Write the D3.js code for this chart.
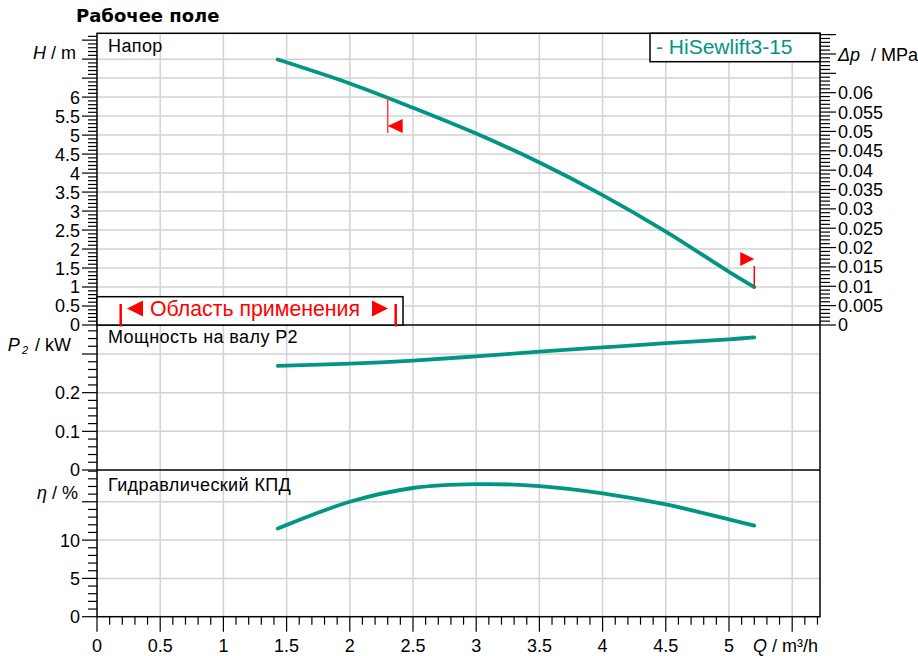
<!DOCTYPE html>
<html>
<head>
<meta charset="utf-8">
<script src="https://cdn.jsdelivr.net/npm/d3@7"></script>
<style>
  body { margin: 0; background: #fff; }
  svg text { font-family: "Liberation Sans", Arial, sans-serif; fill: #000; }
</style>
</head>
<body>
<div id="chart"></div>
<script>
// Curve data
const flow = [1.43, 2, 2.5, 3, 3.5, 4, 4.5, 5, 5.2];          // Q, m³/h
const head = [6.99, 6.36, 5.72, 5.04, 4.28, 3.42, 2.46, 1.40, 1.0]; // H, m
const power = [0.2695, 0.275, 0.283, 0.294, 0.306, 0.317, 0.328, 0.338, 0.343]; // P2, kW
const efficiency = [11.5, 15.0, 16.8, 17.3, 17.05, 16.1, 14.65, 12.7, 11.9]; // eta, %

// tick label lists
const qLabels = [0, 0.5, 1, 1.5, 2, 2.5, 3, 3.5, 4, 4.5, 5];
const hLabels = [0, 0.5, 1, 1.5, 2, 2.5, 3, 3.5, 4, 4.5, 5, 5.5, 6];
const dpLabels = [0, 0.005, 0.01, 0.015, 0.02, 0.025, 0.03, 0.035, 0.04, 0.045, 0.05, 0.055, 0.06];
const pLabels = [0, 0.1, 0.2];
const etaLabels = [0, 5, 10];

// operating range markers (Q)
const rangeLimits = [2.3, 5.2];

const title = 'Рабочее поле';
const seriesName = '- HiSewlift3-15';
const rangeText = 'Область применения';

const W = 918, H = 656;
const plotL = 97, plotR = 820, plotT = 33.3;
const p1Bottom = 325, p2Bottom = 470, p3Bottom = 616.7;
const teal = '#009682';
const red = '#ff0000';
const gridColor = '#d2d2d2';

const svg = d3.select('#chart').append('svg')
    .attr('width', W)
    .attr('height', H);

const x = d3.scaleLinear().domain([0, 5.72]).range([plotL, plotR]);
const yH = d3.scaleLinear().domain([0, 7.68]).range([p1Bottom, plotT]);
const yDp = d3.scaleLinear().domain([0, 7.68 * 0.00981]).range([p1Bottom, plotT]);
const yP = d3.scaleLinear().domain([0, 0.375]).range([p2Bottom, p1Bottom]);
const yE = d3.scaleLinear().domain([0, 19.15]).range([p3Bottom, p2Bottom]);

const fmt = d => String(+d.toFixed(4));
const steps = (a, b, s) => d3.range(Math.round(a / s), Math.round(b / s) + 1).map(i => +(i * s).toFixed(6));

// Grid
const grid = svg.append('g').attr('stroke', gridColor).attr('stroke-width', 1.5);
steps(0.5, 5.5, 0.5).forEach(v => {
    grid.append('line').attr('x1', x(v)).attr('x2', x(v)).attr('y1', plotT).attr('y2', p3Bottom);
});
const hGrid = (scale, vals) => vals.forEach(v => {
    grid.append('line').attr('x1', plotL).attr('x2', plotR).attr('y1', scale(v)).attr('y2', scale(v));
});
hGrid(yH, steps(0.5, 7, 0.5));
hGrid(yP, [0.1, 0.2, 0.3]);
hGrid(yE, [5, 10, 15]);

// Left axes with minor ticks
function leftAxis(scale, max, minorStep, majorStep, labels) {
    const g = svg.append('g').attr('stroke', '#000').attr('stroke-width', 1.2);
    steps(0, max, minorStep).forEach(v => {
        const major = Math.abs(v / majorStep - Math.round(v / majorStep)) < 1e-6;
        g.append('line')
            .attr('x1', plotL - (major ? 15 : 9)).attr('x2', plotL)
            .attr('y1', scale(v)).attr('y2', scale(v));
    });
    svg.append('g').selectAll('text').data(labels).join('text')
        .attr('x', 80)
        .attr('y', d => scale(d))
        .attr('dy', '0.36em')
        .attr('text-anchor', 'end')
        .style('font-size', '18px')
        .text(fmt);
}
leftAxis(yH, 7.6, 0.1, 0.5, hLabels);
leftAxis(yP, 0.36, 0.02, 0.1, pLabels);
leftAxis(yE, 19, 1, 5, etaLabels);

// Right axis (pressure)
const rg = svg.append('g').attr('stroke', '#000').attr('stroke-width', 1.2);
steps(0, 0.075, 0.001).forEach(v => {
    const major = Math.abs(v / 0.005 - Math.round(v / 0.005)) < 1e-6;
    rg.append('line')
        .attr('x1', plotR).attr('x2', plotR + (major ? 16 : 10))
        .attr('y1', yDp(v)).attr('y2', yDp(v));
});
svg.append('g').selectAll('text').data(dpLabels).join('text')
    .attr('x', 838)
    .attr('y', d => yDp(d))
    .attr('dy', '0.36em')
    .style('font-size', '18px')
    .text(fmt);

// Bottom axis
const bg = svg.append('g').attr('stroke', '#000').attr('stroke-width', 1.2);
steps(0, 5.7, 0.1).forEach(v => {
    const major = Math.abs(v / 0.5 - Math.round(v / 0.5)) < 1e-6;
    bg.append('line')
        .attr('x1', x(v)).attr('x2', x(v))
        .attr('y1', p3Bottom).attr('y2', p3Bottom + (major ? 15 : 8));
});
svg.append('g').selectAll('text').data(qLabels).join('text')
    .attr('x', d => x(d))
    .attr('y', 652)
    .attr('text-anchor', 'middle')
    .style('font-size', '18px')
    .text(fmt);

// Frame and panel separators
const frame = svg.append('g').attr('stroke', '#000').attr('stroke-width', 1.5).attr('fill', 'none');
frame.append('rect').attr('x', plotL).attr('y', plotT).attr('width', plotR - plotL).attr('height', p3Bottom - plotT);
[p1Bottom, p2Bottom].forEach(y => {
    frame.append('line').attr('x1', plotL).attr('x2', plotR).attr('y1', y).attr('y2', y);
});

// Curves
const line = (scale, vals) => d3.line()
    .x((d, i) => x(flow[i]))
    .y(d => scale(d))
    .curve(d3.curveCatmullRom.alpha(0.5))(vals);

[[yH, head], [yP, power], [yE, efficiency]].forEach(([scale, vals]) => {
    svg.append('path')
        .attr('d', line(scale, vals))
        .attr('fill', 'none')
        .attr('stroke', teal)
        .attr('stroke-width', 3.8)
        .attr('stroke-linecap', 'round');
});

// Operating range markers on the head curve
const headAt = q => {
    const i = Math.max(1, d3.bisectLeft(flow, q));
    const t = (q - flow[i - 1]) / (flow[i] - flow[i - 1]);
    return head[i - 1] + t * (head[i] - head[i - 1]);
};
const mk = svg.append('g');
{
    const mx = x(rangeLimits[0]), my = yH(headAt(rangeLimits[0]));
    mk.append('line').attr('x1', mx).attr('x2', mx).attr('y1', my).attr('y2', my + 35)
        .attr('stroke', '#ff4040').attr('stroke-width', 1.5);
    mk.append('path')
        .attr('d', `M${mx},${my + 28}L${mx + 15},${my + 21}L${mx + 15},${my + 35}Z`)
        .attr('fill', red);
}
{
    const mx = x(rangeLimits[1]), my = yH(headAt(rangeLimits[1]));
    mk.append('line').attr('x1', mx).attr('x2', mx).attr('y1', my).attr('y2', my - 21)
        .attr('stroke', red).attr('stroke-width', 1.5);
    mk.append('path')
        .attr('d', `M${mx - 14},${my - 35}L${mx},${my - 28}L${mx - 14},${my - 21}Z`)
        .attr('fill', red);
}

// "Область применения" box
svg.append('rect')
    .attr('x', plotL).attr('y', 296.7).attr('width', 403 - plotL).attr('height', p1Bottom - 296.7)
    .attr('fill', '#fff').attr('stroke', '#000').attr('stroke-width', 1.5);
[120.7, 395.7].forEach(bx => {
    svg.append('line').attr('x1', bx).attr('x2', bx).attr('y1', 304).attr('y2', 326.5)
        .attr('stroke', red).attr('stroke-width', 2.5);
});
svg.append('path').attr('d', 'M127,308.5L143,300.5L143,316.5Z').attr('fill', red);
svg.append('path').attr('d', 'M388,308.5L372,300.5L372,316.5Z').attr('fill', red);
svg.append('text')
    .attr('x', 150).attr('y', 316)
    .style('font-size', '21.3px').style('fill', red)
    .text(rangeText);

// Series legend box
svg.append('rect')
    .attr('x', 650).attr('y', plotT).attr('width', plotR - 650).attr('height', 61.7 - plotT)
    .attr('fill', '#fff').attr('stroke', '#000').attr('stroke-width', 1.5);
svg.append('text')
    .attr('x', 656).attr('y', 54)
    .style('font-size', '21px').style('fill', teal)
    .text(seriesName);

// Panel titles
[['Напор', 52], ['Мощность на валу P2', 343], ['Гидравлический КПД', 491]].forEach(([t, y]) => {
    svg.append('text').attr('x', 108).attr('y', y)
        .style('font-size', '18px').style('letter-spacing', '0.4px').text(t);
});

// Axis unit labels
const unit = (xPos, y, anchor, parts) => {
    const t = svg.append('text').attr('x', xPos).attr('y', y).attr('text-anchor', anchor).style('font-size', '18px');
    parts.forEach(([s, st, dx]) => {
        const sp = t.append('tspan').text(s);
        if (dx) sp.attr('dx', dx);
        if (st === 'i') sp.style('font-style', 'italic');
        if (st === 'sub') sp.style('font-size', '11px').style('font-style', 'italic').attr('dy', 3);
        if (st === 'up') sp.attr('dy', -3);
    });
};
unit(76, 59, 'end', [['H', 'i'], [' / m']]);
unit(838, 61, 'start', [['Δp', 'i'], ['/ MPa', '', 11]]);
unit(71, 351, 'end', [['P', 'i'], ['2', 'sub', 2], ['/ kW', 'up', 7]]);
unit(78, 499, 'end', [['η', 'i'], [' / %']]);
unit(818, 652, 'end', [['Q', 'i'], [' / m³/h']]);

// Title
svg.append('text')
    .attr('x', 76).attr('y', 22)
    .style('font-family', '"DejaVu Sans", Verdana, sans-serif')
    .style('font-weight', 'bold')
    .style('font-size', '18px')
    .text(title);
</script>
</body>
</html>
